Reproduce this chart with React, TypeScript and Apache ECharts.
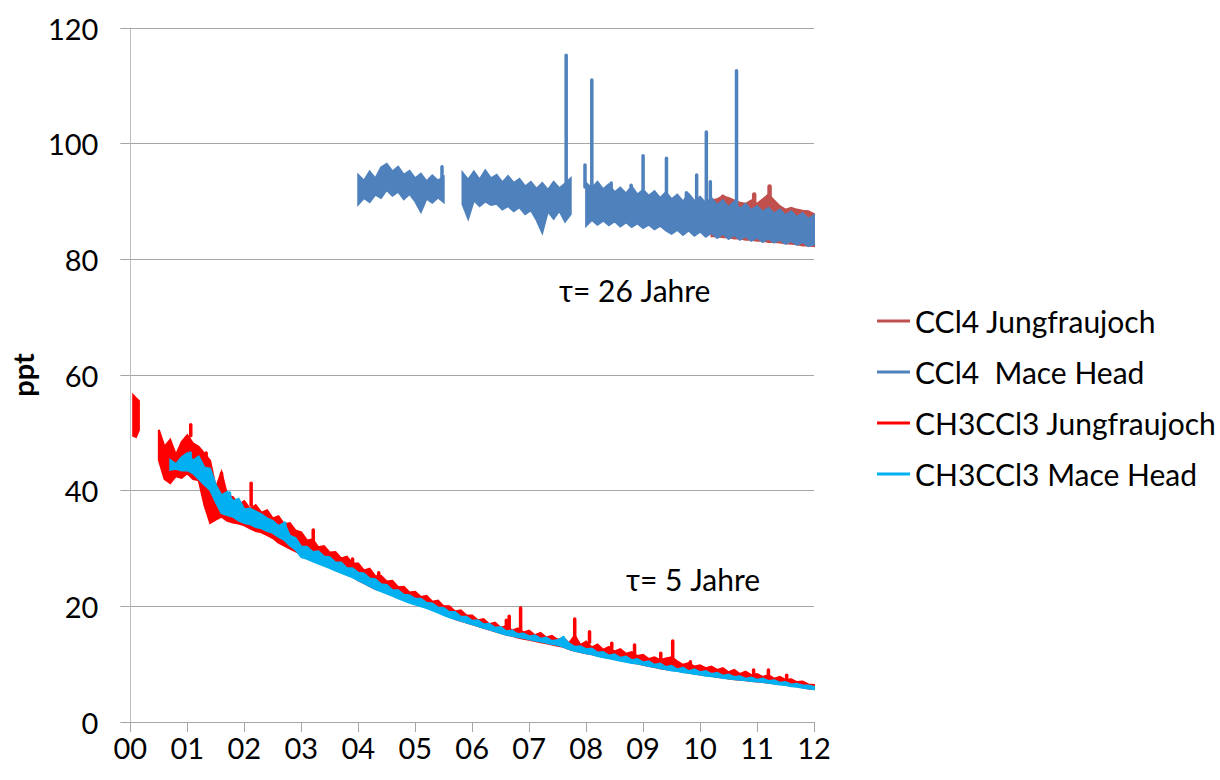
import React, { useEffect, useRef } from "react";
import * as echarts from "echarts";

// x axis: years since 2000. Each band segment: start year, sampling step, upper and lower envelope (ppt)
const xTickLabels = ["00", "01", "02", "03", "04", "05", "06", "07", "08", "09", "10", "11", "12"];
const seriesNames = ["CCl4 Jungfraujoch", "CCl4  Mace Head", "CH3CCl3 Jungfraujoch", "CH3CCl3 Mace Head"];
const seriesColors = ["#C0504D", "#4F81BD", "#FF0000", "#00B0F0"];

// ---- CCl4 Jungfraujoch (10.2 - 12.0) ----
const ccl4JfjHi = [90.2, 90.4, 90.9, 90.6, 90.2, 89.8, 89.6, 90.2, 89.6, 90.4, 91.2, 90.2, 89.2, 88.6, 88.9, 88.6, 88.4, 88.3, 87.8];
const ccl4JfjLo = [84, 84, 83.8, 83.8, 83.6, 83.6, 83.4, 83.4, 83.2, 83.2, 83, 83, 82.9, 82.8, 82.7, 82.6, 82.4, 82.4, 82.3];
const ccl4JfjSpikes = [[11.22, 89.5, 92.6], [10.95, 89, 91.2], [10.4, 89.5, 90.8]];

// ---- CCl4 Mace Head ----
const ccl4MhHi1 = [94.6, 93.6, 95.2, 94, 95.9, 96.5, 95.2, 96, 94.6, 95.3, 94, 94.8, 93.5, 94.5, 93.6, 94.3];
const ccl4MhLo1 = [89.5, 90.6, 89.9, 91.2, 90.6, 92, 91, 91.7, 90.4, 91.3, 90, 88.2, 90.5, 89.8, 90.7, 89.9];
const ccl4MhHi2 = [95, 93.8, 95.2, 93.8, 95.4, 94, 94.6, 93.3, 94.4, 93.2, 93.9, 92.6, 93.4, 92.2, 93.2, 92, 93.4, 92.3, 93.1, 94];
const ccl4MhLo2 = [89.5, 87, 90.2, 89.2, 90, 89.4, 89.6, 88.6, 89.2, 88.3, 89, 87.8, 88.5, 86.8, 84.6, 88.3, 87, 88.4, 86.5, 87.8];
const ccl4MhHi3 = [
  93.2, 92.3, 93.4, 92.1, 93, 91.6, 92.4, 91.4, 92.6, 91.2,
  92, 91, 91.8, 90.6, 91.6, 90.4, 91.2, 90, 91.3, 90.1,
  90.8, 89.7, 90.6, 89.4, 90.2, 89, 90, 88.7, 89.6, 88.5,
  89.2, 88.2, 88.9, 87.9, 88.6, 87.6, 88.3, 87.3, 88, 87, 87.6,
];
const ccl4MhLo3 = [
  85.8, 86.8, 86, 86.7, 85.9, 86.6, 85.7, 86.4, 85.6, 86.2,
  85.4, 86, 85.2, 85.8, 85, 84.4, 85.1, 84.2, 85, 84.1,
  84.8, 83.9, 84.6, 83.7, 84.4, 83.5, 84.2, 83.4, 84, 83.2,
  83.8, 83, 83.6, 82.9, 83.4, 82.7, 83.2, 82.5, 83, 82.3, 82.6,
];
const ccl4MhSpikes = [
  [5.47, 93.5, 96], [7.65, 92.5, 115.3], [7.98, 92.5, 96.3], [8.1, 92.5, 111], [8.44, 92, 93.2],
  [8.79, 91.5, 92.8], [9.0, 91.5, 97.9], [9.41, 90.8, 97.5], [9.76, 90.5, 91.5], [9.94, 90.5, 94.6],
  [10.11, 90, 102], [10.18, 90, 93.4], [10.64, 89.5, 112.6],
];

// ---- CH3CCl3 Jungfraujoch ----
const ch3JfjHiA = [56.5, 56, 55.5];
const ch3JfjLoA = [49.5, 49.3, 50.5];
const ch3JfjHiB = [
  50.5, 47.6, 48.8, 46.2, 48.4,
  49.6, 48.2, 47.6, 46.4, 45.2, 40.5, 43.2, 39.2, 38.9, 37.6,
  38.2, 36.8, 37.5, 36.2, 36.6, 35.2, 35.6, 34.2, 34.4, 33.1,
  32.8, 31.4, 31.6, 30.2, 30.4, 29.3, 29.4, 28.3, 28.6, 27.4,
  27.4, 26.2, 26.5, 25.2, 25.3, 24.3, 24.4, 23.3, 23.4, 22.4,
  22.5, 21.6, 21.8, 20.8, 21, 20, 20, 19.1, 19.3, 18.4,
  18.4, 17.6, 17.8, 16.9, 17.2, 16.3, 16.6, 15.8, 16.2, 15.5,
  15.8, 15, 15.4, 14.6, 14.9, 14.2, 14.6, 13.6, 15, 13.3,
  13.9, 12.9, 13.4, 12.5, 13, 12.2, 12.6, 11.8, 12.1, 11.4,
  11.6, 10.9, 11.2, 10.7, 11, 11.2, 10.5, 9.9, 10.2, 9.6,
  9.8, 9.3, 9.6, 9, 9.3, 8.6, 9, 8.3, 8.7, 8.1,
  8.3, 7.8, 8.1, 7.5, 7.8, 7.3, 7.4, 6.9, 7, 6.5, 6.4,
];
const ch3JfjLoB = [
  45.3, 42, 41.3, 42.5, 42.2,
  43, 42, 41.8, 37.5, 34.4, 35, 35.5, 34.8, 34.5, 34.3,
  34, 33.5, 33, 32.8, 32.3, 31.8, 31, 30.5, 30, 29.5,
  29, 28.5, 28.3, 27.8, 27.5, 27, 26.5, 26, 25.5, 25.2,
  24.5, 24, 23.5, 23, 22.8, 22.3, 22, 21.6, 21.3, 20.9,
  20.6, 20.3, 20, 19.6, 19.2, 18.8, 18.3, 17.8, 17.5, 17.2,
  16.9, 16.6, 16.3, 16, 15.7, 15.4, 15.1, 14.9, 14.6, 14.4,
  14.2, 14, 13.8, 13.6, 13.4, 13.2, 13, 12.6, 12.3, 12.1,
  11.9, 11.7, 11.5, 11.3, 11.1, 10.9, 10.7, 10.5, 10.3, 10.1,
  9.9, 9.7, 9.5, 9.3, 9.1, 9, 8.9, 8.7, 8.5, 8.4,
  8.2, 8.1, 8, 7.8, 7.7, 7.5, 7.4, 7.3, 7.2, 7.1,
  7, 6.9, 6.8, 6.7, 6.6, 6.5, 6.4, 6.2, 6, 5.8, 5.7,
];
const ch3JfjSpikes = [
  [1.06, 49.5, 51.4], [1.33, 45, 46.5], [1.6, 40, 43], [2.12, 37.5, 41.3], [3.21, 31, 33.2],
  [3.9, 27.5, 28.2], [4.36, 25, 25.8], [6.6, 16.2, 17.6], [6.65, 16.2, 18.3], [6.85, 15.8, 19.7],
  [7.8, 14.5, 17.8], [8.06, 13.8, 15.6], [8.45, 12.8, 13.6], [8.85, 11.8, 13.3], [9.31, 10.9, 11.9],
  [9.52, 11, 14], [9.83, 10, 10.4], [10.94, 8.2, 9], [11.2, 7.9, 9], [11.52, 7.6, 8.1],
];

// ---- CH3CCl3 Mace Head (0.7 - 12.0) ----
const ch3MhHi = [
  45.3, 44.6, 45.8,
  46.5, 45.2, 45.9, 44, 43.8, 41, 39.2, 39.8, 38.2, 38.6,
  36.8, 36.9, 36.4, 35.9, 35.2, 34.8, 33.9, 34.4, 32.2, 31.8,
  30.3, 30.3, 29.4, 29.5, 28.6, 28.5, 27.6, 27.6, 26.6, 26.6,
  25.8, 25.7, 24.8, 24.7, 23.8, 23.7, 22.8, 22.8, 22, 21.9,
  21.3, 21.3, 20.6, 20.5, 19.8, 19.7, 19, 19, 18.2, 18.2,
  17.5, 17.6, 16.9, 17, 16.3, 16.4, 15.7, 15.8, 15.2, 15.3,
  14.8, 15, 14.4, 14.6, 14, 14.2, 14.6, 13.6, 13, 13.1,
  12.6, 12.7, 12, 12.1, 11.5, 11.7, 11.1, 11.3, 10.7, 10.9,
  10.3, 10.5, 9.9, 10.1, 9.5, 9.7, 9.1, 9.4, 8.8, 9.1,
  8.6, 8.8, 8.3, 8.5, 8, 8.2, 7.8, 7.9, 7.5, 7.7,
  7.3, 7.5, 7.1, 7.2, 6.8, 6.9, 6.5, 6.6, 6.3, 6.3, 6.1,
];
const ch3MhLo = [
  43.6, 43.8, 43.5,
  43.5, 43, 42, 41, 40.1, 38, 36.1, 35.8, 35.5, 34.8,
  34.4, 34.2, 33.7, 33.5, 33, 32.7, 32, 31.5, 30.5, 29.8,
  28.5, 28.2, 27.8, 27.4, 27, 26.6, 26.2, 25.8, 25.4, 25,
  24.5, 24, 23.5, 23, 22.6, 22.2, 21.8, 21.4, 21, 20.6,
  20.3, 20, 19.7, 19.3, 18.9, 18.5, 18.1, 17.8, 17.5, 17.2,
  16.9, 16.6, 16.3, 16, 15.7, 15.4, 15.1, 14.9, 14.7, 14.5,
  14.3, 14.1, 13.9, 13.7, 13.5, 13.3, 13, 12.6, 12.3, 12.1,
  11.9, 11.7, 11.4, 11.2, 11, 10.8, 10.6, 10.4, 10.2, 10.1,
  9.9, 9.7, 9.5, 9.3, 9.1, 8.9, 8.8, 8.6, 8.5, 8.3,
  8.2, 8, 7.9, 7.8, 7.6, 7.5, 7.4, 7.3, 7.2, 7.1,
  7, 6.9, 6.8, 6.6, 6.5, 6.4, 6.2, 6.1, 5.9, 5.8, 5.7,
];
const ch3MhSpikes = [[2.71, 33, 34.4], [1.05, 45.5, 46.5], [1.74, 38.5, 39.6], [7.6, 14, 14.6]];

type Segment = { start: number; step: number; hi: number[]; lo: number[] };

const bands: Segment[][] = [
  [{ start: 10.2, step: 0.1, hi: ccl4JfjHi, lo: ccl4JfjLo }],
  [
    { start: 4.0, step: 0.1, hi: ccl4MhHi1, lo: ccl4MhLo1 },
    { start: 5.83, step: 0.1, hi: ccl4MhHi2, lo: ccl4MhLo2 },
    { start: 8.0, step: 0.1, hi: ccl4MhHi3, lo: ccl4MhLo3 },
  ],
  [
    { start: 0.05, step: 0.05, hi: ch3JfjHiA, lo: ch3JfjLoA },
    { start: 0.5, step: 0.1, hi: ch3JfjHiB, lo: ch3JfjLoB },
  ],
  [{ start: 0.7, step: 0.1, hi: ch3MhHi, lo: ch3MhLo }],
];
const spikes = [ccl4JfjSpikes, ccl4MhSpikes, ch3JfjSpikes, ch3MhSpikes];

const annotations = [
  { text: "τ= 26 Jahre", x: 559, y: 293 },
  { text: "τ= 5 Jahre", x: 626, y: 582 },
];

const FONT = "Lato, 'Open Sans', sans-serif";

export default function App() {
  const ref = useRef<HTMLDivElement>(null);
  useEffect(() => {
    if (!ref.current) return;
    const chart = echarts.init(ref.current, undefined, { renderer: "svg" });

    const series: any[] = [];
    seriesNames.forEach((name, si) => {
      const color = seriesColors[si];
      const segs = bands[si];
      series.push({
        name,
        type: "custom",
        coordinateSystem: "cartesian2d",
        itemStyle: { color },
        data: segs.map((s) => [s.start, s.hi[0]]),
        renderItem: (params: any, api: any) => {
          const seg = segs[params.dataIndex];
          const top = seg.hi.map((v, k) => api.coord([seg.start + k * seg.step, v]));
          const bot = seg.lo.map((v, k) => api.coord([seg.start + k * seg.step, v])).reverse();
          return {
            type: "polygon",
            shape: { points: top.concat(bot) },
            style: { fill: color, stroke: color, lineWidth: 2, lineJoin: "miter" },
          };
        },
        silent: true,
        z: 2 + si * 2,
      });
      series.push({
        name,
        type: "custom",
        coordinateSystem: "cartesian2d",
        itemStyle: { color },
        data: spikes[si],
        renderItem: (params: any, api: any) => {
          const p1 = api.coord([api.value(0), api.value(1)]);
          const p2 = api.coord([api.value(0), api.value(2)]);
          return {
            type: "line",
            shape: { x1: p1[0], y1: p1[1], x2: p2[0], y2: p2[1] },
            style: { stroke: color, lineWidth: si === 0 ? 4.5 : 3.5, lineCap: "round" },
          };
        },
        silent: true,
        z: 3 + si * 2,
      });
    });

    chart.setOption({
      animation: false,
      backgroundColor: "#ffffff",
      grid: { left: 127, right: 406, top: 28, bottom: 58, containLabel: false },
      legend: {
        orient: "vertical",
        left: 872,
        top: 300,
        icon: "rect",
        itemWidth: 33,
        itemHeight: 3,
        itemGap: 19,
        data: seriesNames,
        textStyle: { fontFamily: FONT, fontSize: 30, color: "#000", lineHeight: 32 },
      },
      xAxis: {
        type: "value",
        min: 0,
        max: 12,
        interval: 1,
        axisLine: { show: true, lineStyle: { color: "#a6a6a6", width: 1 } },
        axisTick: { show: true, length: 10, lineStyle: { color: "#a6a6a6" } },
        splitLine: { show: false },
        axisLabel: {
          fontFamily: FONT,
          fontSize: 29,
          color: "#000",
          margin: 11,
          formatter: (v: number) => xTickLabels[Math.round(v)] ?? "",
        },
      },
      yAxis: {
        type: "value",
        min: 0,
        max: 120,
        interval: 20,
        name: "ppt",
        nameLocation: "middle",
        nameGap: 86,
        nameTextStyle: { fontFamily: FONT, fontSize: 29, fontWeight: "bold", color: "#000" },
        axisLine: { show: true, lineStyle: { color: "#bdbdbd", width: 1 } },
        axisTick: { show: true, length: 10, lineStyle: { color: "#a6a6a6" } },
        splitLine: { show: true, lineStyle: { color: "#a6a6a6", width: 1 } },
        axisLabel: { fontFamily: FONT, fontSize: 29, color: "#000", margin: 32 },
      },
      series,
      graphic: annotations.map((a) => ({
        type: "text",
        left: a.x,
        top: a.y - 18,
        style: { text: a.text, font: `30px ${FONT}`, fill: "#000" },
      })),
    });
    return () => chart.dispose();
  }, []);
  return (
    <div
      ref={ref}
      style={{ position: "fixed", left: 0, top: 0, width: 1220, height: 780, background: "#fff" }}
    />
  );
}
